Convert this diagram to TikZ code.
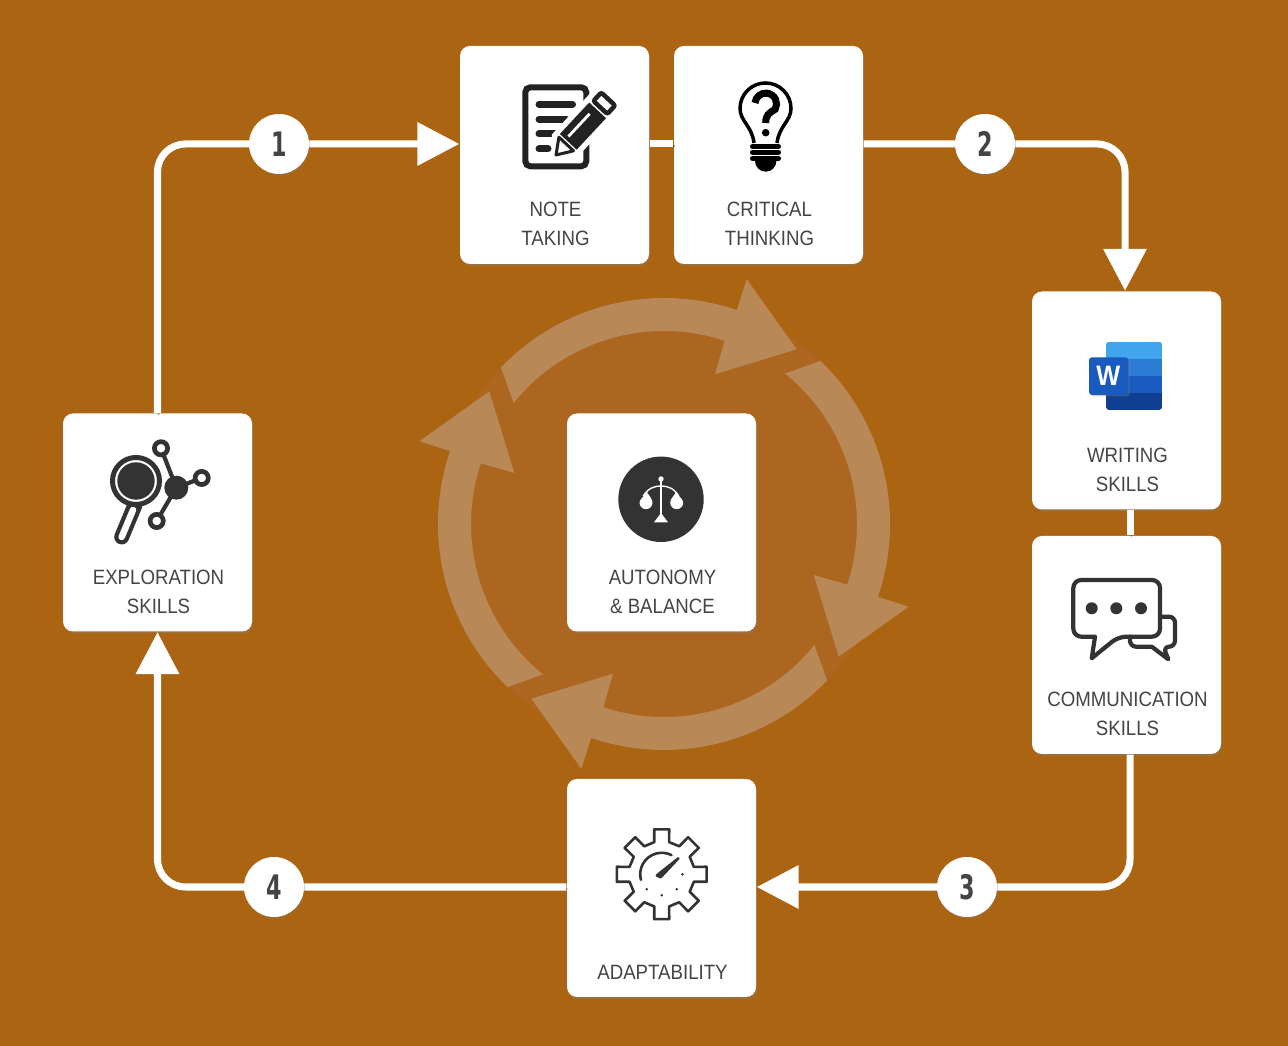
\documentclass[tikz,border=0pt]{standalone}
\usepackage{fontspec}
\usepackage{tkz-euclide}
\usetikzlibrary{arrows.meta,shadows}
\setmainfont[FakeStretch=.9]{Liberation Sans}
\newfontfamily\badgefont[FakeStretch=.66]{DejaVu Sans}
\definecolor{rust}{HTML}{AB6411}
\definecolor{hubdisc}{HTML}{AD6620}
\definecolor{ringfill}{HTML}{B98857}
\definecolor{ink}{HTML}{444444}
\definecolor{icondark}{HTML}{333333}
\definecolor{noteblack}{HTML}{222222}
\definecolor{wordone}{HTML}{41A5EE}
\definecolor{wordtwo}{HTML}{2B7CD3}
\definecolor{wordthree}{HTML}{185ABD}
\definecolor{wordfour}{HTML}{103F91}
\tikzset{
  card/.style={fill=white,rounded corners=.1cm,minimum width=1.89cm,minimum height=2.18cm,inner sep=0pt,
    drop shadow={shadow xshift=.012cm,shadow yshift=-.018cm,opacity=.4}},
  cardtext/.style={anchor=south,align=center,inner sep=0pt,text=ink,xshift=.01cm,yshift=.178cm,font=\fontsize{5.9}{8.25}\selectfont},
  route/.style={draw=white,line width=2pt,rounded corners=.28cm,
    preaction={draw=black,opacity=.35,transform canvas={xshift=.012cm,yshift=-.02cm}}},
  routetip/.style={-{Triangle[length=.42cm,width=.42cm]}},
  badge/.style={circle,fill=white,minimum size=.6cm,inner sep=0pt,text=ink,font=\badgefont\bfseries\fontsize{9.6}{10}\selectfont,
    drop shadow={shadow xshift=.012cm,shadow yshift=-.015cm,opacity=.3}},
  iconline/.style={draw=icondark,line width=.042cm,line join=round,line cap=round},
  gearline/.style={draw=icondark,line width=.026cm,line join=round,line cap=round}
}

\begin{document}
\begin{tikzpicture}
\fill[rust] (0,0) rectangle (12.88,10.46);
\useasboundingbox (0,0) rectangle (12.88,10.46);

\tkzDefPoint(6.64,5.22){hub}
\fill[hubdisc] (hub) circle (2.26);
\foreach \turn in {0,90,180,270}{
  \begin{scope}[shift={(hub)},rotate=\turn]
    \fill[ringfill] (136.2:2.26) arc[start angle=136.2,end angle=71.2,radius=2.26]
      -- (.827,2.447) -- (1.327,1.747) -- (.51,1.497) -- (71.7:1.93)
      arc[start angle=71.7,end angle=141.2,radius=1.93] -- cycle;
  \end{scope}
}

\node[card] (note) at (5.545,8.91) {};
\node[card] (crit) at (7.685,8.91) {};
\node[card] (writing) at (11.265,6.455) {};
\node[card] (comm) at (11.265,4.01) {};
\node[card] (adapt) at (6.615,1.58) {};
\node[card] (auton) at (6.615,5.235) {};
\node[card] (explor) at (1.575,5.235) {};

\node[cardtext] (notetext) at (note.south) {NOTE\\TAKING};
\node[cardtext] (crittext) at (crit.south) {CRITICAL\\THINKING};
\node[cardtext] (writingtext) at (writing.south) {WRITING\\SKILLS};
\node[cardtext] (commtext) at (comm.south) {COMMUNICATION\\SKILLS};
\node[cardtext] (adapttext) at (adapt.south) {ADAPTABILITY};
\node[cardtext] (autontext) at (auton.south) {AUTONOMY\\\&~BALANCE};
\node[cardtext] (explortext) at (explor.south) {EXPLORATION\\SKILLS};

\coordinate (one) at (2.79,9.02);
\coordinate (two) at (9.85,9.02);
\coordinate (three) at (9.67,1.59);
\coordinate (four) at (2.74,1.59);

\draw[route,routetip] (explor.north) |- (one) -- (one -| note.west);
\draw[route] (note.east |- one) -- (crit.west |- one);
\draw[route,routetip] (crit.east |- two) -| ([xshift=-.015cm]writing.north);
\draw[route] ([xshift=.035cm]writing.south) -- ([xshift=.035cm]comm.north);
\draw[route,routetip] ([xshift=.035cm]comm.south) |- (three) -- (three -| adapt.east);
\draw[route,routetip] (adapt.west |- four) -| (explor.south);

\node[badge] (badgeone) at (one) {1};
\node[badge] (badgetwo) at (two) {2};
\node[badge] (badgethree) at (three) {3};
\node[badge] (badgefour) at (four) {4};

% note taking
\draw[noteblack,line width=.06cm,rounded corners=.05cm] (5.253,8.797) rectangle (5.863,9.587);
\foreach \h/\e in {9.417/5.725,9.267/5.665,9.12/5.565,8.97/5.48}{
  \draw[noteblack,line width=.07cm,line cap=round] (5.39,\h) -- (\e,\h);
}
\begin{scope}[shift={(5.56,8.91)},rotate=47]
  \fill[white] (-.06,0) -- (.12,.17) -- (.85,.17) -- (.85,-.17) -- (.12,-.17) -- cycle;
  \draw[noteblack,fill=white,line width=.03cm,line join=round] (0,0) -- (.15,.1) -- (.15,-.1) -- cycle;
  \fill[noteblack] (.18,-.115) rectangle (.61,.115);
  \draw[white,line width=.028cm] (.22,.035) -- (.53,.035);
  \draw[noteblack,line width=.045cm,rounded corners=.02cm] (.65,-.095) rectangle (.765,.095);
\end{scope}

% critical thinking
\draw[black,line width=.035cm] (7.54,9.03) .. controls (7.52,9.2) and (7.40,9.25) .. (7.40,9.375)
  arc[start angle=180,end angle=0,radius=.255] .. controls (7.91,9.25) and (7.79,9.2) .. (7.77,9.03);
\draw[black,line width=.07cm] (7.55,9.43) arc[start angle=175,end angle=-30,radius=.108]
  .. controls (7.69,9.33) and (7.657,9.31) .. (7.657,9.23);
\fill[black] (7.657,9.133) circle (.038);
\foreach \h in {8.995,8.935,8.875}{
  \draw[black,line width=.05cm,line cap=round] (7.525,\h) -- (7.785,\h);
}
\fill[black] (7.55,8.85) arc[start angle=180,end angle=360,radius=.107] -- cycle;

% writing skills
\begin{scope}
  \clip[rounded corners=.03cm] (11.06,6.36) rectangle (11.62,7.043);
  \fill[wordone] (11.06,6.87) rectangle (11.62,7.043);
  \fill[wordtwo] (11.06,6.70) rectangle (11.62,6.87);
  \fill[wordthree] (11.06,6.527) rectangle (11.62,6.70);
  \fill[wordfour] (11.06,6.36) rectangle (11.62,6.527);
\end{scope}
\fill[wordthree,rounded corners=.03cm,drop shadow={shadow xshift=.015cm,shadow yshift=-.015cm,opacity=.35}] (10.89,6.51) rectangle (11.283,6.887);
\node[text=white,inner sep=0pt,font=\bfseries\fontsize{8}{8}\selectfont] (wordw) at (11.083,6.70) {W};

% communication skills
\draw[iconline,rounded corners=.08cm] (10.95,4.093) -- (10.733,4.093) -- (10.733,4.66) -- (11.60,4.66)
  -- (11.60,4.093) -- (11.183,4.093) [sharp corners] -- (10.917,3.877) -- cycle;
\foreach \dotx in {10.917,11.163,11.41}{
  \fill[icondark] (\dotx,4.377) circle (.06);
}
\draw[iconline,rounded corners=.06cm] (11.62,4.293) -- (11.75,4.293) -- (11.75,3.993) -- (11.633,3.993)
  [sharp corners] -- (11.683,3.867) -- (11.517,3.993) [rounded corners=.06cm] -- (11.30,3.993) -- (11.30,4.093);

% adaptability
\begin{scope}[shift={(6.617,1.717)}]
  \draw[gearline] (-13:.33) \foreach \a in {0,45,...,315}{ -- (\a-13:.33) -- (\a-9.5:.455) -- (\a+9.5:.455) -- (\a+13:.33)} -- cycle;
  \draw[gearline] (195:.215) arc[start angle=195,end angle=63,radius=.215];
  \draw[gearline,fill=icondark] (.167,.16) -- (-.012,.018) -- (-.048,-.012) -- (-.012,-.03) -- cycle;
  \foreach \dotx/\doty in {-.15/-.15,0/-.21,.15/-.15,.207/0}{
    \fill[icondark] (\dotx,\doty) circle (.014);
  }
\end{scope}

% autonomy
\fill[icondark] (6.61,5.467) circle (.427);
\draw[white,line width=.016cm] (6.61,5.66) -- (6.61,5.26);
\fill[white] (6.61,5.67) circle (.027);
\fill[white] (6.54,5.237) -- (6.68,5.237) -- (6.61,5.33) -- cycle;
\draw[white,line width=.014cm] (6.433,5.50) .. controls (6.48,5.58) and (6.55,5.60) .. (6.61,5.60) .. controls (6.67,5.60) and (6.74,5.58) .. (6.787,5.50);
\fill[white] (6.47,5.54) .. controls (6.45,5.50) and (6.395,5.47) .. (6.395,5.433) arc[start angle=180,end angle=360,radius=.065] .. controls (6.525,5.47) and (6.49,5.5) .. (6.47,5.54);
\fill[white] (6.76,5.54) .. controls (6.74,5.50) and (6.702,5.47) .. (6.702,5.433) arc[start angle=180,end angle=360,radius=.065] .. controls (6.832,5.47) and (6.78,5.5) .. (6.76,5.54);

% exploration
\draw[icondark,line width=.15cm,line cap=round] (1.35,5.41) -- (1.217,5.09);
\draw[white,line width=.065cm,line cap=round] (1.33,5.36) -- (1.217,5.09);
\draw[icondark,line width=.05cm,fill=white] (1.36,5.65) circle (.235);
\fill[icondark] (1.36,5.65) circle (.187);
\foreach \ringx/\ringy in {1.61/5.977,2.017/5.68,1.567/5.25}{
  \draw[icondark,line width=.042cm] (1.763,5.583) -- (\ringx,\ringy);
  \draw[icondark,line width=.047cm,fill=white] (\ringx,\ringy) circle (.066);
}
\fill[icondark] (1.763,5.583) circle (.12);
\end{tikzpicture}
\end{document}
